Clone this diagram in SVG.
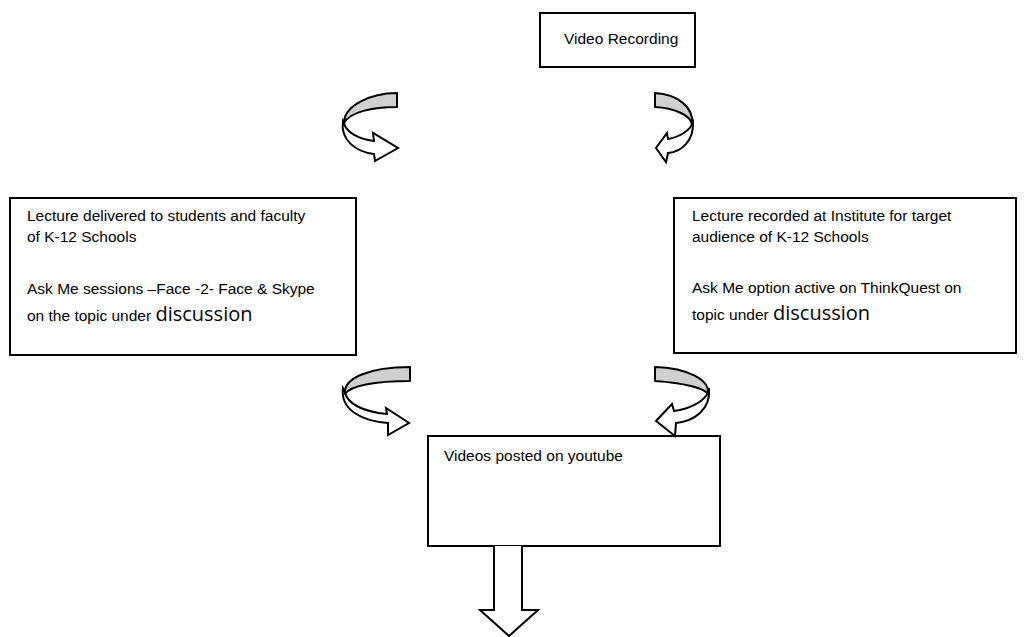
<svg xmlns="http://www.w3.org/2000/svg" width="1029" height="637" viewBox="0 0 1029 637">
<style>
.box{fill:#fff;stroke:#000;stroke-width:2}
.t{font-family:"Liberation Sans",Arial,sans-serif;font-size:15.5px;fill:#000}
.d{font-family:"Open Sans","Noto Sans",sans-serif;font-size:20px}
.g{fill:#d0d0d0;stroke:#000;stroke-width:2;stroke-linejoin:round}
.w{fill:#fff;stroke:#000;stroke-width:2;stroke-linejoin:miter}
</style>
<rect width="1029" height="637" fill="#fff"/>
<g id="video-recording">
<rect class="box" x="540" y="13" width="155" height="54"/>
<text class="t" x="564" y="44">Video Recording</text>
</g>
<g id="lecture-delivered">
<rect class="box" x="10" y="198" width="346" height="157"/>
<text class="t" x="27" y="221">Lecture delivered to students and faculty</text>
<text class="t" x="27" y="242">of K-12 Schools</text>
<text class="t" x="27" y="294">Ask Me sessions –Face -2- Face &amp; Skype</text>
<text class="t" x="27" y="321">on the topic under <tspan class="d">discussion</tspan></text>
</g>
<g id="lecture-recorded">
<rect class="box" x="674" y="198" width="342" height="155"/>
<text class="t" x="692" y="221">Lecture recorded at Institute for target</text>
<text class="t" x="692" y="242">audience of K-12 Schools</text>
<text class="t" x="692" y="293">Ask Me option active on ThinkQuest  on</text>
<text class="t" x="692" y="320">topic under <tspan class="d">discussion</tspan></text>
</g>
<g id="videos-posted">
<rect class="box" x="428" y="436" width="292" height="110"/>
<text class="t" x="444" y="461">Videos posted on youtube</text>
</g>
<g id="connectors">
<path class="w" d="M343,121 C340,140 356,152 374,154 L375,161 L398,148 L373,133 L374,141 C358,139 346,132 344,123 Z"/>
<path class="g" d="M397,93 L397,107 C372,107 350,112 344,123 C344,106 370,93 397,93 Z"/>
<path class="w" d="M693,122 C694,140 682,152 668,153 L666,162 L656,148 L667,133 L668,139 C680,137 690,130 692,124 Z"/>
<path class="g" d="M655,93 L655,107 C674,108 690,115 692,124 C694,108 678,94 655,93 Z"/>
<path class="w" d="M343,388 C340,410 362,421 388,423 L388,435 L409,423 L386,408 L387,414 C364,412 347,404 345,392 Z"/>
<path class="g" d="M410,367 L410,381 C374,381 350,386 345,394 C343,378 370,367 410,367 Z"/>
<path class="w" d="M709,388 C711,410 694,421 676,423 L675,436 L656,421 L672,404 L674,411 C690,409 705,401 708,392 Z"/>
<path class="g" d="M655,367 L655,381 C684,383 704,388 708,394 C710,380 688,368 655,367 Z"/>
<path class="w" d="M494,546 L494,610 L480,610 L509,636 L538,610 L522,610 L522,546"/>
</g>
</svg>
